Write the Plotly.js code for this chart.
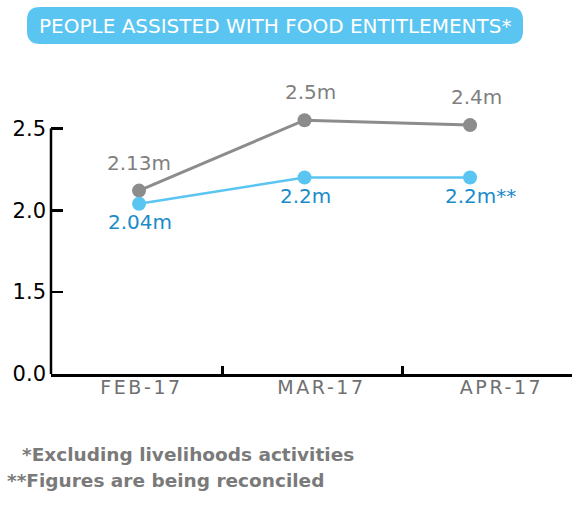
<!DOCTYPE html>
<html><head><meta charset="utf-8">
<script src="https://cdn.plot.ly/plotly-3.0.1.min.js"></script>
<style>
html,body{margin:0;padding:0;background:#fff}
#chart{width:572px;height:506px}
.x2tick text{letter-spacing:2.6px !important}
</style></head><body><div id="chart"></div>
<script>
// ---- data ----
const months = ['FEB-17', 'MAR-17', 'APR-17'];
const totalValues = [2.12, 2.55, 2.52];
const totalLabels = ['2.13m', '2.5m', '2.4m'];
const assistedValues = [2.04, 2.2, 2.2];
const assistedLabels = ['2.04m', '2.2m', '2.2m**'];
const yTickVals = [1.0, 1.5, 2.0, 2.5];
const yTickText = ['0.0', '1.5', '2.0', '2.5'];
const titleText = 'PEOPLE ASSISTED WITH FOOD ENTITLEMENTS*';
const notes = ['*Excluding livelihoods activities', '**Figures are being reconciled'];

// ---- layout helpers ----
const W = 572, H = 506;
const M = {l: 51, r: 0, t: 112, b: 132};
const PW = W - M.l - M.r, PH = H - M.t - M.b;
const px = x => (x - M.l) / PW;
const py = y => (H - M.b - y) / PH;
function roundRect(x0, y0, x1, y1, r) {
  const p = (x, y) => px(x) + ',' + py(y);
  return 'M' + p(x0 + r, y0) + ' L' + p(x1 - r, y0) + ' Q' + p(x1, y0) + ' ' + p(x1, y0 + r) +
    ' L' + p(x1, y1 - r) + ' Q' + p(x1, y1) + ' ' + p(x1 - r, y1) +
    ' L' + p(x0 + r, y1) + ' Q' + p(x0, y1) + ' ' + p(x0, y1 - r) +
    ' L' + p(x0, y0 + r) + ' Q' + p(x0, y0) + ' ' + p(x0 + r, y0) + ' Z';
}

const FONT = 'DejaVu Sans, Verdana, sans-serif';
const GRAY = '#8c8c8c', GRAY_TXT = '#7f7f7f';
const BLUE = '#5bc5f2', BLUE_TXT = '#1a8bc9';

const traces = [
  {x: months, y: totalValues, type: 'scatter', mode: 'lines+markers', cliponaxis: false,
   line: {color: GRAY, width: 3}, marker: {color: GRAY, size: 14}, hoverinfo: 'skip', showlegend: false},
  {x: months, y: assistedValues, type: 'scatter', mode: 'lines+markers', cliponaxis: false,
   line: {color: BLUE, width: 2.5}, marker: {color: BLUE, size: 14}, hoverinfo: 'skip', showlegend: false},
  {x: months.map((_, i) => i), y: months.map(() => null), xaxis: 'x2', type: 'scatter', mode: 'markers',
   hoverinfo: 'skip', showlegend: false}
];

const annotations = [];
months.forEach((m, i) => {
  annotations.push({x: m, y: totalValues[i], xref: 'x', yref: 'y', text: totalLabels[i], showarrow: false,
    yshift: 28, xshift: i === 0 ? 0 : 6, font: {family: FONT, size: 20, color: GRAY_TXT}});
  const star = assistedLabels[i].endsWith('**');
  annotations.push({x: m, y: assistedValues[i], xref: 'x', yref: 'y', text: assistedLabels[i], showarrow: false,
    yshift: -18, xshift: star ? 10 : 1, font: {family: FONT, size: 20, color: BLUE_TXT}});
});
annotations.push({xref: 'paper', yref: 'paper', x: px(275), y: py(26), xanchor: 'center', yanchor: 'middle',
  text: titleText, showarrow: false, font: {family: FONT, size: 20, color: '#ffffff'}});
annotations.push({xref: 'paper', yref: 'paper', x: px(20), y: py(454), xanchor: 'left', yanchor: 'middle',
  text: '<b>' + notes[0] + '</b>', showarrow: false, font: {family: FONT, size: 18.5, color: '#7a7a7a'}});
annotations.push({xref: 'paper', yref: 'paper', x: px(5), y: py(480), xanchor: 'left', yanchor: 'middle',
  text: '<b>' + notes[1] + '</b>', showarrow: false, font: {family: FONT, size: 18.5, color: '#7a7a7a'}});

const layout = {
  width: W, height: H,
  margin: M,
  paper_bgcolor: '#ffffff', plot_bgcolor: '#ffffff',
  showlegend: false,
  xaxis: {type: 'category', range: [-0.532, 2.616], showline: true, linecolor: '#000', linewidth: 2.5,
    ticks: '', showticklabels: false, showgrid: false, zeroline: false, fixedrange: true},
  xaxis2: {type: 'linear', overlaying: 'x', anchor: 'y', side: 'bottom', range: [-0.5028, 2.3917],
    tickmode: 'array', tickvals: months.map((_, i) => i), ticktext: months, ticks: '',
    tickfont: {family: FONT, size: 19, color: '#707070'},
    minor: {tickmode: 'array', tickvals: months.slice(1).map((_, i) => i + 0.45), ticks: 'inside', ticklen: 8,
      tickwidth: 2.5, tickcolor: '#000', showgrid: false},
    showline: false, showgrid: false, zeroline: false, fixedrange: true},
  yaxis: {range: [1.0, 2.6], tickmode: 'array', tickvals: yTickVals, ticktext: yTickText,
    ticks: 'inside', ticklen: 12, tickwidth: 2.5, tickcolor: '#000', ticklabelstandoff: 4,
    tickfont: {family: FONT, size: 21, color: '#000'},
    showline: false, showgrid: false, zeroline: false, fixedrange: true},
  shapes: [
    {type: 'path', xref: 'paper', yref: 'paper', path: roundRect(27, 7, 523, 44, 13),
     fillcolor: '#5bc5f1', line: {width: 0}, layer: 'below'},
    {type: 'line', xref: 'paper', yref: 'y', x0: 0, x1: 0, y0: yTickVals[0], y1: yTickVals[yTickVals.length - 1],
     line: {color: '#000', width: 2.5}}
  ],
  annotations: annotations
};

Plotly.newPlot('chart', traces, layout, {displayModeBar: false, staticPlot: true});
</script></body></html>
